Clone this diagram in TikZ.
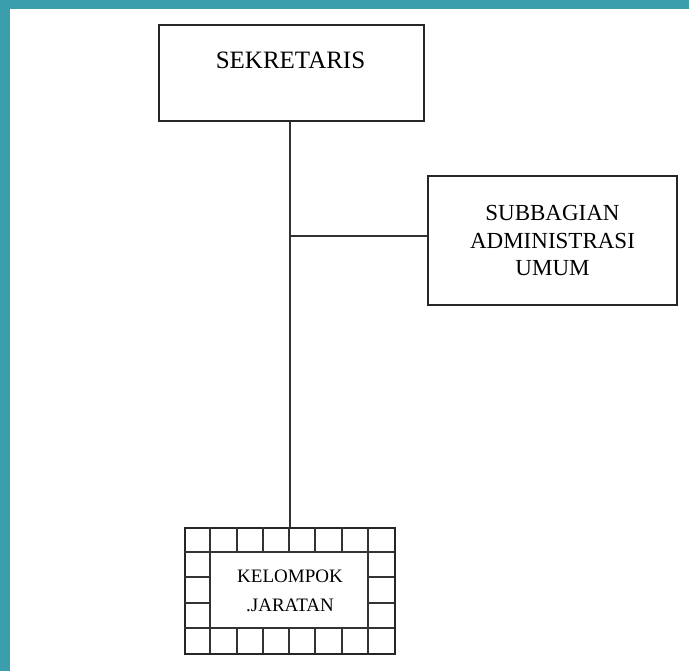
\documentclass[tikz,border=0pt]{standalone}
\usepackage{fontspec}
\setmainfont{Liberation Serif}
\usetikzlibrary{positioning}
\definecolor{frameteal}{RGB}{58,158,172}

\begin{document}
\begin{tikzpicture}[x=0.5pt, y=-0.5pt]

\tikzset{unit/.style = {shape=rectangle,draw=black!85,line width=1pt,inner sep=0pt}}
\tikzset{link/.style = {draw=black!80,line width=1pt}}
\useasboundingbox (0,0) rectangle (689,671);
\fill[frameteal] (0,0) rectangle (689,9);
\fill[frameteal] (0,0) rectangle (10,671);
% boxes
\node[unit, minimum width=132.5pt, minimum height=48pt] (sek) at (291.5,72.5) {};
\node[font=\fontsize{12.5}{15}\selectfont] (sektext) at (290.5,60) {SEKRETARIS};
\node[unit, minimum width=124.5pt, minimum height=64.5pt, align=center,
  font=\fontsize{11.5}{13.75}\selectfont] (sub) at (552.5,240.5) {SUBBAGIAN\\ADMINISTRASI\\UMUM};
\node[unit, minimum width=105pt, minimum height=63pt, align=center,
  font=\fontsize{9.5}{14.5}\selectfont] (jab) at (290,591) {KELOMPOK\\.JARATAN};
% grid round the last box
\begin{scope}[shift={(jab.north west)}, link]
\draw (26.25,25.2) rectangle (183.75,100.8);
\foreach \i in {1,...,7} {
  \draw (\i*26.25,0) -- (\i*26.25,25.2);
  \draw (\i*26.25,100.8) -- (\i*26.25,126);
}
\foreach \j in {1,...,4} {
  \draw (0,\j*25.2) -- (26.25,\j*25.2);
  \draw (183.75,\j*25.2) -- (210,\j*25.2);
}
\end{scope}
%lines
\coordinate (branch) at (290,236);
\draw[link] (sek.south -| jab.north) -- (jab.north);
\draw[link] (branch) -- (branch -| sub.west);

\end{tikzpicture}
\end{document}
